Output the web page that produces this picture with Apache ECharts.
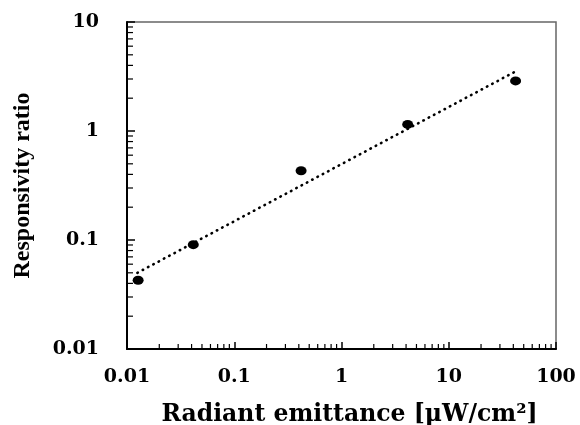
<!DOCTYPE html>
<html>
<head>
<meta charset="utf-8">
<script src="https://cdn.jsdelivr.net/npm/echarts@6/dist/echarts.min.js"></script>
<style>
  html, body { margin: 0; padding: 0; background: #fff; }
  #chart { width: 580px; height: 425px; }
</style>
</head>
<body>
<div id="chart"></div>
<script>
// measured points
const emittance = [0.0127, 0.0415, 0.42, 4.14, 42]
const ratio = [0.0427, 0.0906, 0.432, 1.15, 2.88]
// dotted fit line ends
const fitX = [0.0125, 41.5]
const fitY = [0.05, 3.5]
// minor tick multipliers per decade
const xDecades = [0.01, 0.1, 1, 10]
const yDecades = [0.01, 0.1, 1]
const minorMult = [2, 3, 4, 5, 6, 7, 8, 9]

const wideFont = 'DejaVu Serif'
const font = 'Liberation Serif'

const xMinor = []
xDecades.forEach(d => minorMult.forEach(m => xMinor.push([d * m, 'x'])))
const yMinor = []
yDecades.forEach(d => minorMult.forEach(m => yMinor.push([d * m, 'y'])))

const chart = echarts.init(document.getElementById('chart'))

const option = {
  animation: false,
  grid: {
    left: 127,
    right: 24,
    top: 22,
    bottom: 76,
    outerBoundsMode: 'none',
    containLabel: false,
    show: true,
    borderColor: '#666',
    borderWidth: 1.5
  },
  xAxis: {
    type: 'log',
    min: 0.01,
    max: 100,
    logBase: 10,
    name: 'Radiant emittance [μW/cm²]',
    nameLocation: 'middle',
    nameGap: 54,
    nameTextStyle: { fontFamily: wideFont, fontWeight: 'bold', fontSize: 23.5, color: '#000', padding: [0, 0, 0, 16] },
    axisLine: { lineStyle: { color: '#000', width: 2 } },
    axisTick: { inside: true, length: 7, lineStyle: { color: '#000', width: 1.5 } },
    axisLabel: {
      fontFamily: wideFont, fontWeight: 'bold', fontSize: 19, color: '#000', margin: 19,
      formatter: v => String(+v.toPrecision(3))
    },
    splitLine: { show: false }
  },
  yAxis: {
    type: 'log',
    min: 0.01,
    max: 10,
    logBase: 10,
    name: 'Responsivity ratio',
    nameLocation: 'middle',
    nameGap: 92,
    nameRotate: 90,
    nameTextStyle: { fontFamily: font, fontWeight: 'bold', fontSize: 24, color: '#000' },
    axisLine: { lineStyle: { color: '#000', width: 2 } },
    axisTick: { inside: true, length: 8, lineStyle: { color: '#000', width: 1.5 } },
    axisLabel: {
      fontFamily: wideFont, fontWeight: 'bold', fontSize: 19, color: '#000', margin: 28,
      formatter: v => String(+v.toPrecision(3))
    },
    splitLine: { show: false }
  },
  series: [
    {
      // minor ticks, placed through the axis scales
      type: 'custom',
      silent: true,
      data: xMinor.concat(yMinor),
      encode: { x: -1, y: -1 },
      renderItem: (params, api) => {
        const v = api.value(0)
        const dir = xMinor.length > params.dataIndex ? 'x' : 'y'
        if (dir === 'x') {
          const p = api.coord([v, 0.01])
          return { type: 'line', shape: { x1: p[0], y1: p[1], x2: p[0], y2: p[1] - 5 }, style: { stroke: '#000', lineWidth: 1.2 } }
        }
        const p = api.coord([0.01, v])
        return { type: 'line', shape: { x1: p[0], y1: p[1], x2: p[0] + 6, y2: p[1] }, style: { stroke: '#000', lineWidth: 1.2 } }
      },
      z: 1
    },
    {
      type: 'line',
      data: fitX.map((x, i) => [x, fitY[i]]),
      symbol: 'none',
      lineStyle: { color: '#000', width: 2.6, type: [0.5, 5.5], cap: 'round' },
      z: 2
    },
    {
      type: 'scatter',
      data: emittance.map((x, i) => [x, ratio[i]]),
      symbol: 'circle',
      symbolSize: [11, 9],
      itemStyle: { color: '#000', opacity: 1 },
      z: 3
    }
  ]
}

chart.setOption(option)
</script>
</body>
</html>
